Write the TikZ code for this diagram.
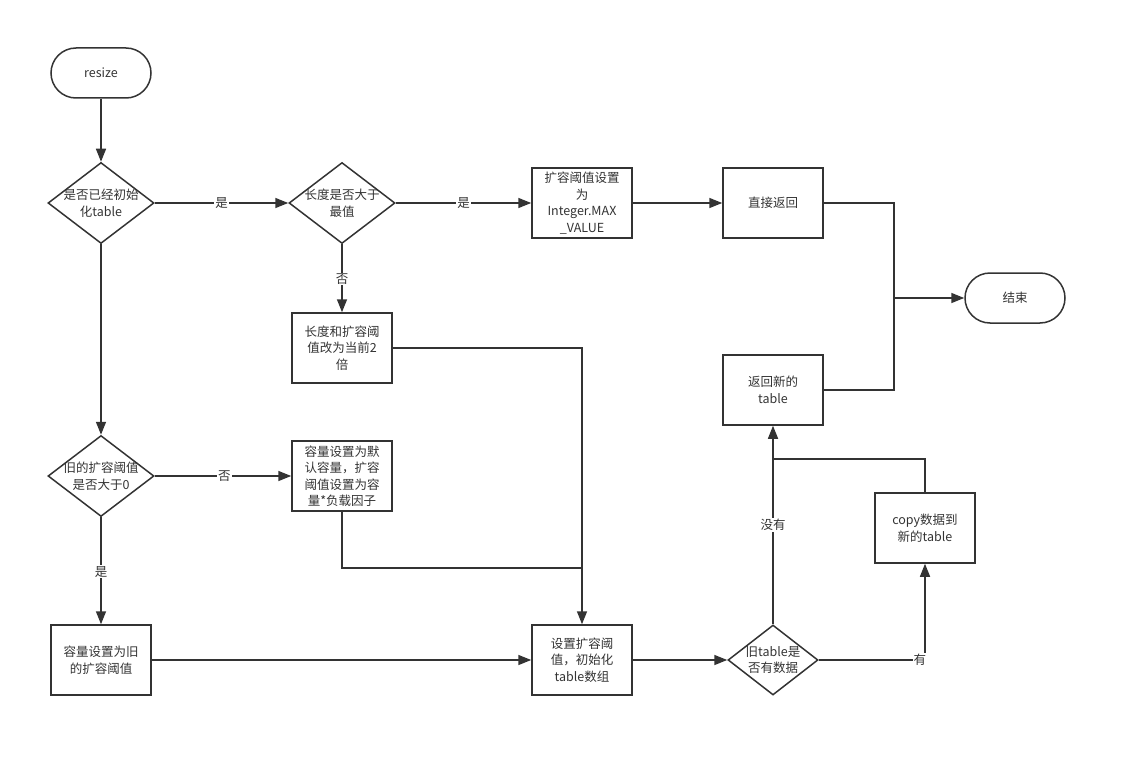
\documentclass[tikz,border=0pt]{standalone}
\usepackage{fontspec}
\setmainfont{Noto Sans CJK SC}
\usetikzlibrary{shapes.geometric,arrows.meta}
\definecolor{ink}{HTML}{333333}
\begin{document}
\begin{tikzpicture}[x=1pt,y=-1pt,
  every node/.style={font=\fontsize{12.5}{16.5}\selectfont, text=ink},
  box/.style={draw=ink, line width=1.5pt, minimum width=100pt, minimum height=70pt, align=center, inner sep=1pt},
  term/.style={draw=ink, line width=1.5pt, rounded corners=25pt, minimum width=100pt, minimum height=50pt},
  dia/.style={draw=ink, line width=1.5pt, shape=diamond, inner sep=0pt, minimum width=106pt, minimum height=81pt},
  sdia/.style={draw=ink, line width=1.5pt, shape=diamond, inner sep=0pt, minimum width=90pt, minimum height=70pt},
  conn/.style={draw=ink, line width=1.5pt},
  arr/.style={conn, -{Triangle[length=13pt,width=10pt]}},
  lbl/.style={fill=white, inner sep=1pt}
]
\useasboundingbox (0,0) rectangle (1127,757);

\node[term] (start) at (101,73) {resize};
\node[dia, label={[align=center]center:是否已经初始\\化table}] (d1) at (101,203) {};
\node[dia, label={[align=center]center:长度是否大于\\最值}] (d2) at (342,203) {};
\node[box] (max) at (582,203) {扩容阈值设置\\为\\Integer.MAX\\\_VALUE};
\node[box] (direct) at (773,203) {直接返回};
\node[term] (end) at (1015,298) {结束};
\node[box] (len) at (342,348) {长度和扩容阈\\值改为当前2\\倍};
\node[box] (ret) at (773,390) {返回新的\\table};
\node[dia, label={[align=center]center:旧的扩容阈值\\是否大于0}] (d3) at (101,476) {};
\node[box] (def) at (342,476) {容量设置为默\\认容量，扩容\\阈值设置为容\\量*负载因子};
\node[box] (copy) at (925,528) {copy数据到\\新的table};
\node[box] (old) at (101,660) {容量设置为旧\\的扩容阈值};
\node[box] (set) at (582,660) {设置扩容阈\\值，初始化\\table数组};
\node[sdia, label={[align=center]center:旧table是\\否有数据}] (d4) at (773,660) {};

\coordinate (m) at (894,298);
\coordinate (j1) at (773,459);
\coordinate (j2) at (582,568);

\draw[arr] (start) -- (d1);
\draw[arr] (d1.east) -- node[lbl]{是} (d2.west);
\draw[arr] (d2.east) -- node[lbl]{是} (max.west);
\draw[arr] (max) -- (direct);
\draw[arr] (direct.east) -| (m) -- (end.west);
\draw[conn] (ret.east) -| (m);
\draw[arr] (d2.south) -- node[lbl, pos=0.51]{否} (len.north);
\draw[arr] (d1.south) -- (d3.north);
\draw[arr] (d3.east) -- node[lbl, pos=0.51]{否} (def.west);
\draw[arr] (d3.south) -- node[lbl, pos=0.51]{是} (old.north);
\draw[arr] (old) -- (set);
\draw[arr] (len.east) -| (set.north);
\draw[conn] (def.south) |- (j2);
\draw[arr] (set) -- (d4.west);
\draw[arr] (d4.north) -- node[lbl]{没有} (ret.south);
\draw[arr] (d4.east) -| node[lbl, pos=0.476]{有} (copy.south);
\draw[conn] (copy.north) |- (j1);
\end{tikzpicture}
\end{document}
